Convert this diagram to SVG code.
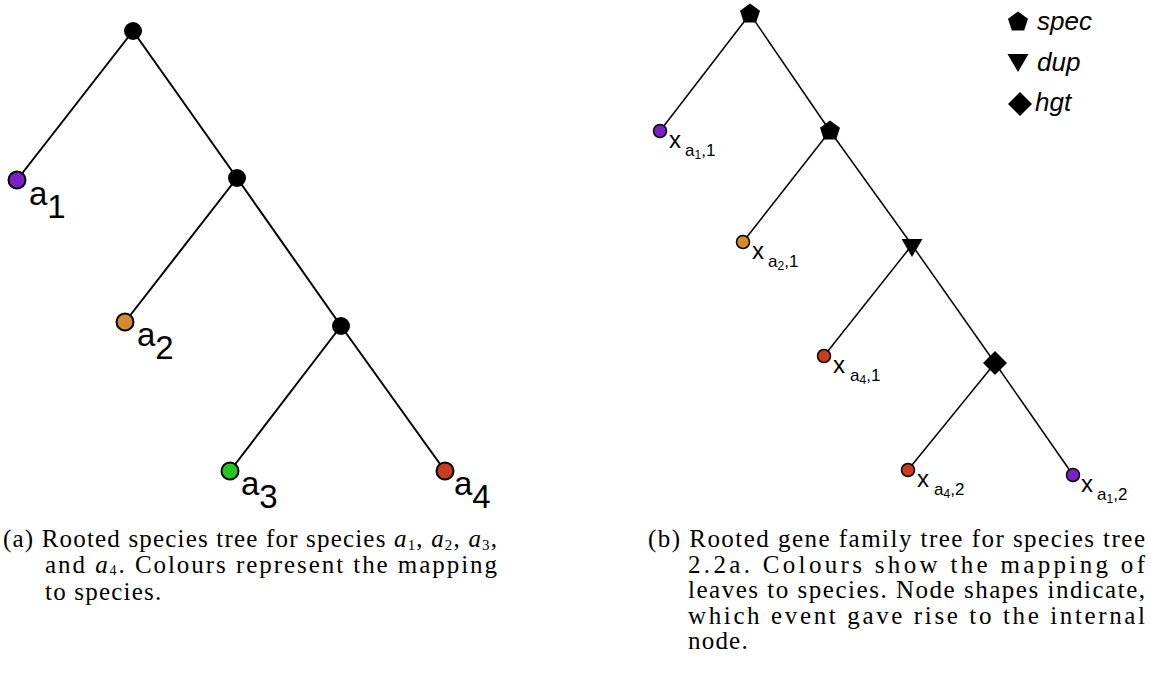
<svg xmlns="http://www.w3.org/2000/svg" xmlns:xlink="http://www.w3.org/1999/xlink" width="1151" height="689" viewBox="0 0 1151 689">
  <style>
    .edgeA { stroke: #000; stroke-width: 2; fill: none; }
    .edgeB { stroke: #000; stroke-width: 1.5; fill: none; }
    .inner { fill: #000; }
    .leafA { stroke: #000; stroke-width: 2; }
    .leafB { stroke: #000; stroke-width: 1.5; }
    .c1 { fill: #7d1fc9; }
    .c2 { fill: #d48a2c; }
    .c3 { fill: #23c81f; }
    .c4 { fill: #c83d22; }
    .lblA { font-family: "Liberation Sans", Arial, sans-serif; font-size: 33px; fill: #000; }
    .lblB { font-family: "Liberation Sans", Arial, sans-serif; font-size: 24px; fill: #000; }
    .s1 { font-size: 17px; }
    .s2 { font-size: 12px; }
    .legend { font-family: "Liberation Sans", Arial, sans-serif; font-size: 26px; font-style: italic; fill: #000; }
    .cap { font-family: "Liberation Serif", "Times New Roman", serif; font-size: 25px; fill: #000; }
    .mi { font-style: italic; }
    .sub { font-size: 15px; }
    .subs { font-size: 14px; }
    .loose { letter-spacing: 1.2px; }
  </style>
  <defs>
    <path id="pent" d="M0,-10.5 L10,-3.25 L6.17,8.5 L-6.17,8.5 L-10,-3.25 Z"/>
    <path id="tri" d="M-10.5,-6 L10.5,-6 L0,12 Z"/>
    <path id="dia" d="M0,-12 L12,0 L0,12 L-12,0 Z"/>
  </defs>

  <!-- species tree -->
  <g id="speciesTree-edges">
    <line class="edgeA" x1="133" y1="31" x2="17" y2="180"/>
    <line class="edgeA" x1="133" y1="31" x2="237" y2="178"/>
    <line class="edgeA" x1="237" y1="178" x2="125" y2="322"/>
    <line class="edgeA" x1="237" y1="178" x2="341" y2="326"/>
    <line class="edgeA" x1="341" y1="326" x2="230" y2="471"/>
    <line class="edgeA" x1="341" y1="326" x2="445" y2="471"/>
  </g>
  <g id="s-root"><circle class="inner" cx="133" cy="31" r="9"/></g>
  <g id="s-n2"><circle class="inner" cx="237" cy="178" r="9"/></g>
  <g id="s-n3"><circle class="inner" cx="341" cy="326" r="9"/></g>
  <g id="s-a1">
    <circle class="leafA c1" cx="17" cy="180" r="8.5"/>
    <text class="lblA" x="29" y="205">a<tspan y="218">1</tspan></text>
  </g>
  <g id="s-a2">
    <circle class="leafA c2" cx="125" cy="322" r="8.5"/>
    <text class="lblA" x="137" y="346">a<tspan y="359">2</tspan></text>
  </g>
  <g id="s-a3">
    <circle class="leafA c3" cx="230" cy="471" r="8.5"/>
    <text class="lblA" x="241" y="495">a<tspan y="508">3</tspan></text>
  </g>
  <g id="s-a4">
    <circle class="leafA c4" cx="445" cy="471" r="8.5"/>
    <text class="lblA" x="454" y="495">a<tspan y="508">4</tspan></text>
  </g>

  <!-- gene family tree -->
  <g id="geneTree-edges">
    <line class="edgeB" x1="750" y1="14" x2="660" y2="131"/>
    <line class="edgeB" x1="750" y1="14" x2="830" y2="131"/>
    <line class="edgeB" x1="830" y1="131" x2="743" y2="242"/>
    <line class="edgeB" x1="830" y1="131" x2="912" y2="245"/>
    <line class="edgeB" x1="912" y1="245" x2="824" y2="356"/>
    <line class="edgeB" x1="912" y1="245" x2="995" y2="363"/>
    <line class="edgeB" x1="995" y1="363" x2="908" y2="470"/>
    <line class="edgeB" x1="995" y1="363" x2="1073" y2="475"/>
  </g>
  <g id="g-root"><use xlink:href="#pent" class="inner" x="750" y="14"/></g>
  <g id="g-spec2"><use xlink:href="#pent" class="inner" x="830" y="131"/></g>
  <g id="g-dup"><use xlink:href="#tri" class="inner" x="912" y="245"/></g>
  <g id="g-hgt"><use xlink:href="#dia" class="inner" x="995" y="363"/></g>
  <g id="g-x-a1-1">
    <circle class="leafB c1" cx="660" cy="131" r="6.5"/>
    <text class="lblB" x="669" y="148">x<tspan class="s1" x="685" y="156">a</tspan><tspan class="s2" y="159">1</tspan><tspan class="s1" y="156">,1</tspan></text>
  </g>
  <g id="g-x-a2-1">
    <circle class="leafB c2" cx="743" cy="242" r="6.5"/>
    <text class="lblB" x="752" y="259">x<tspan class="s1" x="768" y="267">a</tspan><tspan class="s2" y="270">2</tspan><tspan class="s1" y="267">,1</tspan></text>
  </g>
  <g id="g-x-a4-1">
    <circle class="leafB c4" cx="824" cy="356" r="6.5"/>
    <text class="lblB" x="833" y="373">x<tspan class="s1" x="850" y="381">a</tspan><tspan class="s2" y="384">4</tspan><tspan class="s1" y="381">,1</tspan></text>
  </g>
  <g id="g-x-a4-2">
    <circle class="leafB c4" cx="908" cy="470" r="6.5"/>
    <text class="lblB" x="917" y="487">x<tspan class="s1" x="934" y="495">a</tspan><tspan class="s2" y="498">4</tspan><tspan class="s1" y="495">,2</tspan></text>
  </g>
  <g id="g-x-a1-2">
    <circle class="leafB c1" cx="1073" cy="475" r="6.5"/>
    <text class="lblB" x="1081" y="492">x<tspan class="s1" x="1097" y="500">a</tspan><tspan class="s2" y="503">1</tspan><tspan class="s1" y="500">,2</tspan></text>
  </g>

  <!-- event legend -->
  <g id="legend">
    <use xlink:href="#pent" class="inner" x="1018" y="22"/>
    <text class="legend" x="1037" y="30">spec</text>
    <use xlink:href="#tri" class="inner" x="1018" y="60"/>
    <text class="legend" x="1037" y="71">dup</text>
    <use xlink:href="#dia" class="inner" x="1020" y="104"/>
    <text class="legend" x="1035" y="111">hgt</text>
  </g>

  <!-- captions -->
  <g id="caption-a" class="cap">
    <text x="3" y="547" textLength="494" lengthAdjust="spacing">(a) Rooted species tree for species <tspan class="mi">a</tspan><tspan class="sub" dy="3">1</tspan><tspan dy="-3">, </tspan><tspan class="mi">a</tspan><tspan class="sub" dy="3">2</tspan><tspan dy="-3">, </tspan><tspan class="mi">a</tspan><tspan class="sub" dy="3">3</tspan><tspan dy="-3">,</tspan></text>
    <text x="45" y="573" textLength="452" lengthAdjust="spacing">and <tspan class="mi">a</tspan><tspan class="subs" dy="1.5">4</tspan><tspan dy="-1.5">. Colours represent the mapping</tspan></text>
    <text class="loose" x="45" y="600">to species.</text>
  </g>
  <g id="caption-b" class="cap">
    <text x="648" y="547" textLength="497" lengthAdjust="spacing">(b) Rooted gene family tree for species tree</text>
    <text x="688" y="573" textLength="457" lengthAdjust="spacing">2.2a.   Colours show the mapping of</text>
    <text x="688" y="598" textLength="457" lengthAdjust="spacing">leaves to species. Node shapes indicate,</text>
    <text x="688" y="624" textLength="457" lengthAdjust="spacing">which event gave rise to the internal</text>
    <text class="loose" x="688" y="649">node.</text>
  </g>
</svg>
